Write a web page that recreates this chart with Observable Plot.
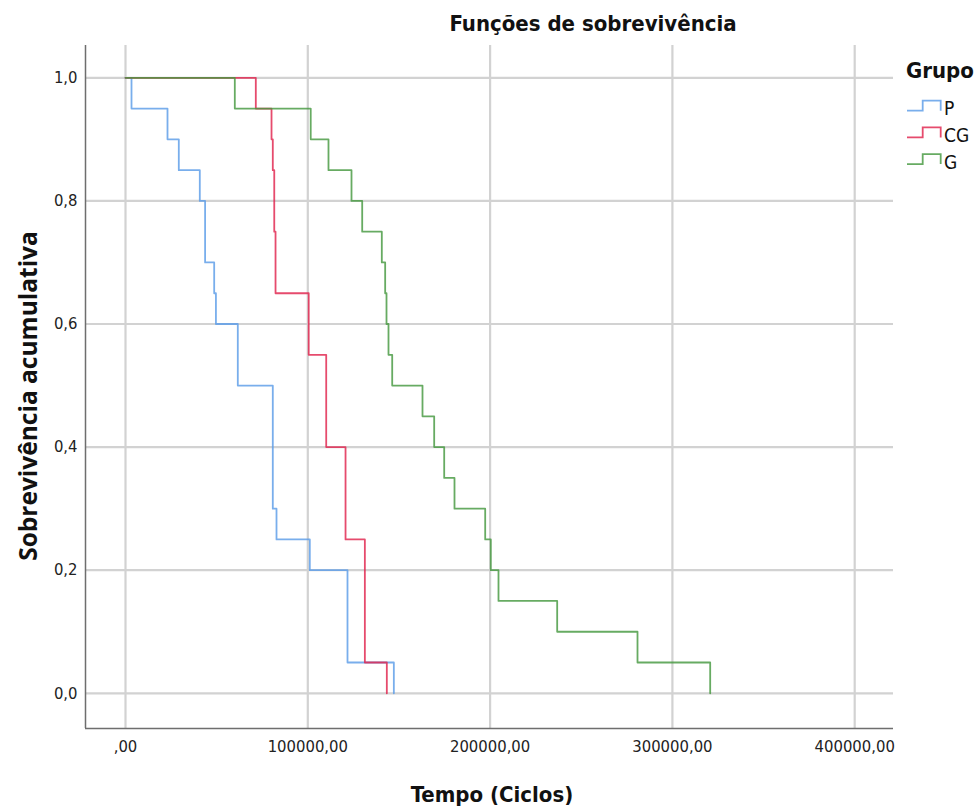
<!DOCTYPE html>
<html><head><meta charset="utf-8">
<script src="https://cdn.jsdelivr.net/npm/d3@7"></script>
<script src="https://cdn.jsdelivr.net/npm/@observablehq/plot@0.6"></script>
<style>body{margin:0;background:#fff}</style>
</head><body><div id="chart"></div>
<script>
// ---- data ----
const groups = ["P", "CG", "G"];
const groupColors = ["#5b9ce8", "#e0234d", "#45983f"];

const pTime = [0, 3290, 23040, 29240, 40760, 43660, 48650, 49600, 61600, 80800, 82830, 101100, 121780, 147200];
const pSurv = [1, 0.95, 0.90, 0.85, 0.80, 0.70, 0.65, 0.60, 0.50, 0.30, 0.25, 0.20, 0.05, 0];

const cgTime = [0, 71480, 80100, 80800, 81600, 82300, 100500, 110100, 120700, 131300, 143350];
const cgSurv = [1, 0.95, 0.90, 0.85, 0.75, 0.65, 0.55, 0.40, 0.25, 0.05, 0];

const gTime = [0, 59960, 101600, 111350, 123970, 129840, 140600, 142440, 143170, 144270, 146300, 162920, 169330, 174820, 180470, 197310, 200380, 204610, 236800, 280860, 320730];
const gSurv = [1, 0.95, 0.90, 0.85, 0.80, 0.75, 0.70, 0.65, 0.60, 0.55, 0.50, 0.45, 0.40, 0.35, 0.30, 0.25, 0.20, 0.15, 0.10, 0.05, 0];

const xTicks = [0, 100000, 200000, 300000, 400000];
const xTickLabels = [",00", "100000,00", "200000,00", "300000,00", "400000,00"];
const yTicks = [0, 0.2, 0.4, 0.6, 0.8, 1.0];
const yTickLabels = ["0,0", "0,2", "0,4", "0,6", "0,8", "1,0"];

const titleText = "Funções de sobrevivência";
const xTitle = "Tempo (Ciclos)";
const yTitle = "Sobrevivência acumulativa";
const legendTitle = "Grupo";

// ---- build table ----
const series = {P: [pTime, pSurv], CG: [cgTime, cgSurv], G: [gTime, gSurv]};
const rows = [];
for (const g of groups) {
  const [t, s] = series[g];
  t.forEach((v, i) => rows.push({group: g, t: v, s: s[i]}));
}

const W = 980, H = 812;
const mL = 85, mR = 87, mT = 45, mB = 84;
const cond = "'DejaVu Sans Condensed', 'DejaVu Sans', sans-serif";

const xDomain = [-21942, 421283];
const yDomain = [-0.0572, 1.0525];

const chart = Plot.plot({
  width: W, height: H,
  marginLeft: mL, marginRight: mR, marginTop: mT, marginBottom: mB,
  style: {fontFamily: cond, fontSize: "16.5px", color: "#222", background: "#fff"},
  x: {domain: xDomain, ticks: xTicks, tickFormat: d => xTickLabels[xTicks.indexOf(d)], tickSize: 0, tickPadding: 12, label: null},
  y: {domain: yDomain, ticks: yTicks, tickFormat: d => yTickLabels[yTicks.findIndex(v => Math.abs(v - d) < 1e-9)], tickSize: 0, tickPadding: 8, label: null},
  color: {domain: groups, range: groupColors},
  marks: [
    Plot.ruleX(xTicks, {stroke: "#d2d2d2", strokeWidth: 2.2}),
    Plot.ruleY(yTicks, {stroke: "#d2d2d2", strokeWidth: 2.2}),
    Plot.ruleX([xDomain[0]], {stroke: "#6e6e6e", strokeWidth: 1.5}),
    Plot.ruleY([yDomain[0]], {stroke: "#6e6e6e", strokeWidth: 1.5}),
    Plot.line(rows, {x: "t", y: "s", z: "group", stroke: "group", curve: "step-after", strokeWidth: 1.8, strokeOpacity: 0.82})
  ]
});

const svg = d3.select(chart);
svg.selectAll("text").attr("fill", "#222");

svg.append("text").attr("x", 593).attr("y", 31).attr("text-anchor", "middle")
  .style("font-family", cond).style("font-weight", "bold").style("font-size", "22px").attr("fill", "#111").text(titleText);

svg.append("text").attr("transform", "translate(37,396) rotate(-90)").attr("text-anchor", "middle")
  .style("font-family", "'Open Sans', sans-serif").style("font-weight", "bold").style("font-size", "24.5px").attr("fill", "#111").text(yTitle);

svg.append("text").attr("x", 492).attr("y", 802).attr("text-anchor", "middle")
  .style("font-family", cond).style("font-weight", "bold").style("font-size", "22px").attr("fill", "#111").text(xTitle);

// legend
svg.append("text").attr("x", 906).attr("y", 78).attr("text-anchor", "start")
  .style("font-family", cond).style("font-weight", "bold").style("font-size", "22px").attr("fill", "#111").text(legendTitle);
groups.forEach((g, i) => {
  const yb = 110.7 + i * 26.7;
  svg.append("path").attr("d", `M907,${yb}H922.7V${yb - 10}H940.7V${yb}`)
    .attr("fill", "none").attr("stroke", groupColors[i]).attr("stroke-width", 1.8).attr("stroke-opacity", 0.82);
  svg.append("text").attr("x", 944).attr("y", yb + 4.5).attr("text-anchor", "start")
    .style("font-family", cond).style("font-size", "19px").attr("fill", "#111").text(g);
});

document.getElementById("chart").appendChild(chart);
</script>
</body></html>
